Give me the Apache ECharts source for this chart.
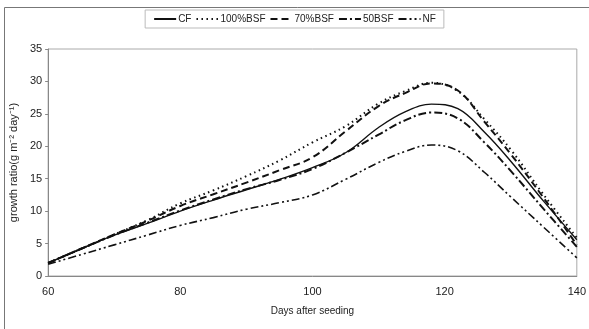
<!DOCTYPE html>
<html>
<head>
<meta charset="utf-8">
<script src="https://cdn.jsdelivr.net/npm/echarts@6/dist/echarts.min.js"></script>
<style>
  html, body { margin: 0; padding: 0; background: #fff; }
  #chart { width: 589px; height: 329px; }
</style>
</head>
<body>
<div id="chart"></div>
<script>
// days after seeding
const days = [60, 65, 70, 75, 80, 85, 90, 95, 100, 105, 110, 114, 118, 122, 126, 130, 135, 140]

const cf      = [2.0, 4.2, 6.3, 8.1, 10.0, 11.7, 13.3, 14.9, 16.7, 19.0, 22.9, 25.3, 26.5, 25.8, 22.2, 17.7, 11.5, 5.6]
const bsf100  = [2.0, 4.2, 6.4, 8.6, 11.2, 13.2, 15.4, 17.8, 20.6, 23.1, 26.6, 28.5, 29.8, 28.5, 24.2, 19.5, 12.5, 5.9]
const bsf70   = [2.0, 4.2, 6.4, 8.5, 10.8, 12.6, 14.4, 16.3, 18.3, 22.3, 26.2, 28.2, 29.7, 28.6, 23.8, 18.8, 12.0, 4.8]
const bsf50   = [2.0, 4.2, 6.3, 8.2, 10.1, 11.8, 13.4, 14.8, 16.5, 19.0, 21.8, 24.0, 25.2, 24.3, 20.6, 16.2, 10.3, 4.5]
const nf      = [1.8, 3.3, 4.8, 6.3, 7.8, 9.0, 10.3, 11.3, 12.5, 14.9, 17.5, 19.2, 20.2, 19.3, 16.0, 12.2, 7.5, 2.8]

const xTicks = [60, 80, 100, 120, 140]
const yTicks = [0, 5, 10, 15, 20, 25, 30, 35]

const FONT = '"Liberation Sans Narrow", "Liberation Sans", sans-serif'

const chart = echarts.init(document.getElementById('chart'))

const pairs = vals => days.map((d, i) => [d, vals[i]])

const mkSeries = (name, vals, type, width) => ({
  name: name,
  type: 'line',
  data: pairs(vals),
  smooth: 0.4,
  symbol: 'none',
  color: '#111',
  lineStyle: { color: '#111', width: width, type: type }
})

const option = {
  animation: false,
  textStyle: { fontFamily: FONT, color: '#222' },
  graphic: [{
    type: 'rect',
    shape: { x: 4.5, y: 7.5, width: 620, height: 340 },
    style: { fill: 'none', stroke: '#777', lineWidth: 1 },
    silent: true
  }],
  legend: {
    top: 10,
    left: 'center',
    padding: [4, 8],
    itemGap: 4,
    itemWidth: 22,
    itemHeight: 6,
    borderColor: '#bbb',
    borderWidth: 1,
    itemStyle: { opacity: 0 },
    textStyle: { fontSize: 10, color: '#222', fontFamily: FONT, padding: [0, 0, 0, -3] },
    data: ['CF', '100%BSF', '70%BSF', '50BSF', 'NF']
  },
  grid: {
    left: 43,
    right: 9,
    top: 49,
    bottom: 53,
    show: true,
    borderColor: '#aaa',
    borderWidth: 1
  },
  xAxis: {
    type: 'value',
    min: 60,
    max: 140,
    interval: 20,
    name: 'Days after seeding',
    nameLocation: 'middle',
    nameGap: 30,
    nameTextStyle: { fontSize: 10, color: '#222', fontFamily: FONT },
    axisLine: { lineStyle: { color: '#888' } },
    axisTick: { show: false },
    splitLine: { show: false },
    axisLabel: {
      fontSize: 11,
      color: '#222',
      margin: 10,
      fontFamily: FONT,
      formatter: v => xTicks.includes(v) ? String(v) : ''
    }
  },
  yAxis: {
    type: 'value',
    min: 0,
    max: 35,
    interval: 5,
    name: 'growth ratio(g m\u207B\u00B2 day\u207B\u00B9)',
    nameLocation: 'middle',
    nameGap: 22,
    nameTextStyle: { fontSize: 11, color: '#222', fontFamily: 'Liberation Sans' },
    axisLine: { show: true, lineStyle: { color: '#888' } },
    axisTick: { show: true, inside: false, length: 3, lineStyle: { color: '#888' } },
    splitLine: { show: false },
    axisLabel: {
      fontSize: 11,
      color: '#222',
      margin: 6,
      fontFamily: FONT,
      formatter: v => yTicks.includes(v) ? String(v) : ''
    }
  },
  series: [
    mkSeries('CF', cf, 'solid', 1.4),
    mkSeries('100%BSF', bsf100, [1.5, 3.5], 2),
    mkSeries('70%BSF', bsf70, [7, 4], 2),
    mkSeries('50BSF', bsf50, [8, 3, 2, 3], 2),
    mkSeries('NF', nf, [8, 3, 2, 3, 2, 3], 1.6)
  ]
}

chart.setOption(option)
</script>
</body>
</html>
